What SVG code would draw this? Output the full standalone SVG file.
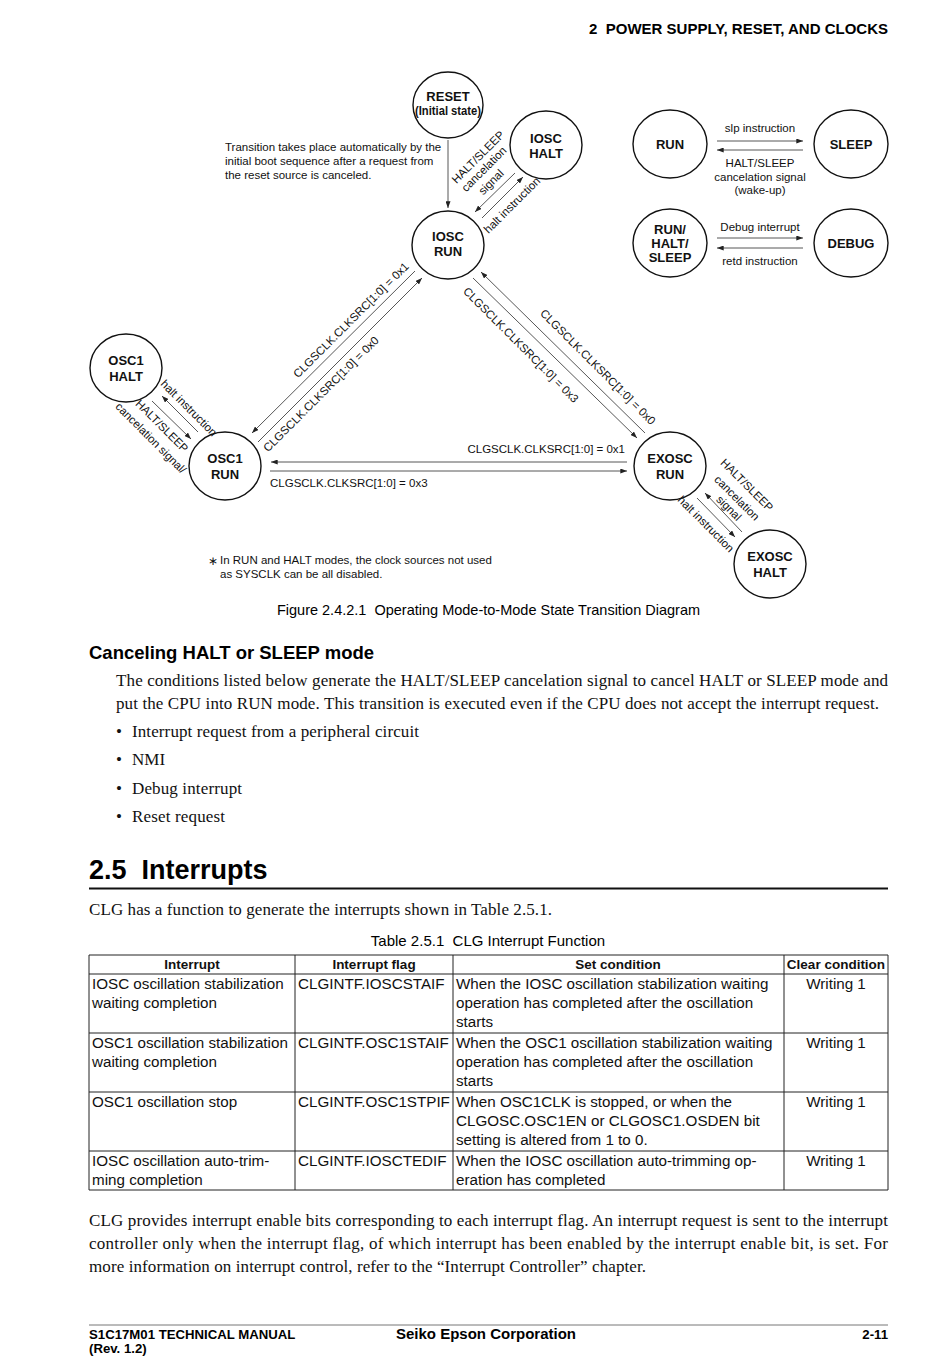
<svg xmlns="http://www.w3.org/2000/svg" width="950" height="1357" viewBox="0 0 950 1357">
<style>
.sans{font-family:"Liberation Sans",Arial,sans-serif}
.serif{font-family:"Liberation Serif","Times New Roman",serif;font-size:17px;fill:#111}
.node ellipse{fill:#fff;stroke:#111;stroke-width:1.4}
.nl{font-family:"Liberation Sans",Arial,sans-serif;font-size:13px;font-weight:bold;text-anchor:middle;fill:#111}
.cn path{fill:none;stroke:#444;stroke-width:0.9;marker-end:url(#ah)}
.lb{font-family:"Liberation Sans",Arial,sans-serif;font-size:11.5px;fill:#111}
.mid{text-anchor:middle}
.tb{font-family:"Liberation Sans",Arial,sans-serif;font-size:15.2px;fill:#111}
.th{font-family:"Liberation Sans",Arial,sans-serif;font-size:13.5px;font-weight:bold;text-anchor:middle;fill:#111}
.grid line{stroke:#222;stroke-width:1}
</style>
<defs>
<marker id="ah" viewBox="0 0 8 6" refX="8" refY="3" markerWidth="7" markerHeight="5" orient="auto" markerUnits="userSpaceOnUse"><path d="M0,0 L8,3 L0,6 z" fill="#222"/></marker>
</defs>
<rect width="950" height="1357" fill="#fff"/>

<!-- header -->
<text class="sans" x="888" y="34" font-size="15" font-weight="bold" text-anchor="end" xml:space="preserve">2  POWER SUPPLY, RESET, AND CLOCKS</text>

<!-- nodes -->
<g id="reset" class="node"><ellipse cx="448" cy="105" rx="35" ry="33"/><text class="nl" x="448" y="101">RESET</text><text class="nl" x="448" y="115" font-size="11" textLength="66" lengthAdjust="spacingAndGlyphs">(Initial state)</text></g>
<g id="iosc-halt" class="node"><ellipse cx="546" cy="145" rx="36" ry="34"/><text class="nl" x="546" y="143">IOSC</text><text class="nl" x="546" y="158">HALT</text></g>
<g id="iosc-run" class="node"><ellipse cx="448" cy="245" rx="36" ry="34"/><text class="nl" x="448" y="241">IOSC</text><text class="nl" x="448" y="256">RUN</text></g>
<g id="osc1-halt" class="node"><ellipse cx="126" cy="368" rx="36" ry="34"/><text class="nl" x="126" y="365">OSC1</text><text class="nl" x="126" y="381">HALT</text></g>
<g id="osc1-run" class="node"><ellipse cx="225" cy="466" rx="36" ry="34"/><text class="nl" x="225" y="463">OSC1</text><text class="nl" x="225" y="479">RUN</text></g>
<g id="exosc-run" class="node"><ellipse cx="670" cy="466" rx="36" ry="34"/><text class="nl" x="670" y="463">EXOSC</text><text class="nl" x="670" y="479">RUN</text></g>
<g id="exosc-halt" class="node"><ellipse cx="770" cy="564" rx="36" ry="34"/><text class="nl" x="770" y="561">EXOSC</text><text class="nl" x="770" y="577">HALT</text></g>
<g id="run" class="node"><ellipse cx="670" cy="144" rx="37" ry="34"/><text class="nl" x="670" y="149">RUN</text></g>
<g id="sleep" class="node"><ellipse cx="851" cy="144" rx="37" ry="34"/><text class="nl" x="851" y="149">SLEEP</text></g>
<g id="run-halt-sleep" class="node"><ellipse cx="670" cy="243" rx="37" ry="34"/><text class="nl" x="670" y="234">RUN/</text><text class="nl" x="670" y="248">HALT/</text><text class="nl" x="670" y="262">SLEEP</text></g>
<g id="debug" class="node"><ellipse cx="851" cy="243" rx="37" ry="34"/><text class="nl" x="851" y="248">DEBUG</text></g>

<!-- connectors -->
<g id="connectors" class="cn">
<path d="M448,140 L448,208"/>
<path d="M515,173 L475,212"/>
<path d="M482,218 L523,177"/>
<path d="M415,271 L252,433"/>
<path d="M258,442 L422,278"/>
<path d="M473,278 L637,438"/>
<path d="M645,433 L481,272"/>
<path d="M627,462 L271,462"/>
<path d="M270,471 L627,471"/>
<path d="M198,432 L162,396"/>
<path d="M152,401 L191,439"/>
<path d="M697,498 L735,537"/>
<path d="M742,532 L705,493"/>
<path d="M717,141 L803,141"/>
<path d="M803,150 L717,150"/>
<path d="M717,238 L803,238"/>
<path d="M803,248 L717,248"/>
</g>

<!-- connector labels -->
<g id="labels">
<text class="lb" x="225" y="151" font-size="11.3">Transition takes place automatically by the</text>
<text class="lb" x="225" y="165" font-size="11.3">initial boot sequence after a request from</text>
<text class="lb" x="225" y="179" font-size="11.3">the reset source is canceled.</text>

<text class="lb mid" transform="translate(478,157) rotate(-45)" y="4">HALT/SLEEP</text>
<text class="lb mid" transform="translate(484,169) rotate(-45)" y="4">cancelation</text>
<text class="lb mid" transform="translate(491,182) rotate(-45)" y="4">signal</text>
<text class="lb mid" transform="translate(512,205) rotate(-45)" y="4">halt instruction</text>

<text class="lb mid" transform="translate(351,320) rotate(-45)" y="4">CLGSCLK.CLKSRC[1:0] = 0x1</text>
<text class="lb mid" transform="translate(321,394) rotate(-45)" y="4">CLGSCLK.CLKSRC[1:0] = 0x0</text>

<text class="lb mid" transform="translate(521,345) rotate(45)" y="4">CLGSCLK.CLKSRC[1:0] = 0x3</text>
<text class="lb mid" transform="translate(598,367) rotate(45)" y="4">CLGSCLK.CLKSRC[1:0] = 0x0</text>

<text class="lb" x="625" y="453" text-anchor="end">CLGSCLK.CLKSRC[1:0] = 0x1</text>
<text class="lb" x="270" y="487">CLGSCLK.CLKSRC[1:0] = 0x3</text>

<text class="lb mid" transform="translate(189,408) rotate(45)" y="4">halt instruction</text>
<text class="lb mid" transform="translate(162,426) rotate(45)" y="4">HALT/SLEEP</text>
<text class="lb mid" transform="translate(151,438) rotate(45)" y="4">cancelation signal/</text>

<text class="lb mid" transform="translate(747,485) rotate(45)" y="4">HALT/SLEEP</text>
<text class="lb mid" transform="translate(737,498) rotate(45)" y="4">cancelation</text>
<text class="lb mid" transform="translate(729,508) rotate(45)" y="4">signal</text>
<text class="lb mid" transform="translate(706,524) rotate(45)" y="4">halt instruction</text>

<text class="lb mid" x="760" y="132">slp instruction</text>
<text class="lb mid" x="760" y="167">HALT/SLEEP</text>
<text class="lb mid" x="760" y="181">cancelation signal</text>
<text class="lb mid" x="760" y="194">(wake-up)</text>
<text class="lb mid" x="760" y="231">Debug interrupt</text>
<text class="lb mid" x="760" y="265">retd instruction</text>

<text class="lb" x="208" y="565">∗</text>
<text class="lb" x="220" y="564">In RUN and HALT modes, the clock sources not used</text>
<text class="lb" x="220" y="578">as SYSCLK can be all disabled.</text>
</g>

<text class="sans" x="488.5" y="615" font-size="14.5" text-anchor="middle" xml:space="preserve">Figure 2.4.2.1  Operating Mode-to-Mode State Transition Diagram</text>

<!-- section text -->
<text class="sans" x="89" y="659" font-size="18.5" font-weight="bold">Canceling HALT or SLEEP mode</text>
<text class="serif" x="116" y="686" textLength="772" lengthAdjust="spacing">The conditions listed below generate the HALT/SLEEP cancelation signal to cancel HALT or SLEEP mode and</text>
<text class="serif" x="116" y="709" textLength="763" lengthAdjust="spacing">put the CPU into RUN mode. This transition is executed even if the CPU does not accept the interrupt request.</text>
<text class="serif" x="116" y="737">•</text><text class="serif" x="132" y="737" textLength="287" lengthAdjust="spacing">Interrupt request from a peripheral circuit</text>
<text class="serif" x="116" y="765">•</text><text class="serif" x="132" y="765">NMI</text>
<text class="serif" x="116" y="794">•</text><text class="serif" x="132" y="794" textLength="110" lengthAdjust="spacing">Debug interrupt</text>
<text class="serif" x="116" y="822">•</text><text class="serif" x="132" y="822" textLength="93" lengthAdjust="spacing">Reset request</text>

<text class="sans" x="89" y="879" font-size="27" font-weight="bold" xml:space="preserve">2.5  Interrupts</text>
<line x1="89" y1="888.5" x2="888" y2="888.5" stroke="#111" stroke-width="1.8"/>
<text class="serif" x="89" y="915" textLength="463" lengthAdjust="spacing">CLG has a function to generate the interrupts shown in Table 2.5.1.</text>

<!-- table -->
<text class="sans" x="488" y="946" font-size="15" text-anchor="middle" xml:space="preserve">Table 2.5.1  CLG Interrupt Function</text>
<g class="grid">
<line x1="89" y1="955" x2="888" y2="955"/>
<line x1="89" y1="974" x2="888" y2="974"/>
<line x1="89" y1="1033" x2="888" y2="1033"/>
<line x1="89" y1="1092" x2="888" y2="1092"/>
<line x1="89" y1="1151" x2="888" y2="1151"/>
<line x1="89" y1="1190" x2="888" y2="1190"/>
<line x1="89" y1="955" x2="89" y2="1190"/>
<line x1="295" y1="955" x2="295" y2="1190"/>
<line x1="453" y1="955" x2="453" y2="1190"/>
<line x1="784" y1="955" x2="784" y2="1190"/>
<line x1="888" y1="955" x2="888" y2="1190"/>
</g>
<text class="th" x="192" y="969">Interrupt</text>
<text class="th" x="374" y="969">Interrupt flag</text>
<text class="th" x="618" y="969">Set condition</text>
<text class="th" x="836" y="969">Clear condition</text>

<text class="tb" x="92" y="989">IOSC oscillation stabilization</text>
<text class="tb" x="92" y="1008">waiting completion</text>
<text class="tb" x="298" y="989">CLGINTF.IOSCSTAIF</text>
<text class="tb" x="456" y="989">When the IOSC oscillation stabilization waiting</text>
<text class="tb" x="456" y="1008">operation has completed after the oscillation</text>
<text class="tb" x="456" y="1027">starts</text>
<text class="tb" x="836" y="989" text-anchor="middle">Writing 1</text>

<text class="tb" x="92" y="1048">OSC1 oscillation stabilization</text>
<text class="tb" x="92" y="1067">waiting completion</text>
<text class="tb" x="298" y="1048">CLGINTF.OSC1STAIF</text>
<text class="tb" x="456" y="1048">When the OSC1 oscillation stabilization waiting</text>
<text class="tb" x="456" y="1067">operation has completed after the oscillation</text>
<text class="tb" x="456" y="1086">starts</text>
<text class="tb" x="836" y="1048" text-anchor="middle">Writing 1</text>

<text class="tb" x="92" y="1107">OSC1 oscillation stop</text>
<text class="tb" x="298" y="1107">CLGINTF.OSC1STPIF</text>
<text class="tb" x="456" y="1107">When OSC1CLK is stopped, or when the</text>
<text class="tb" x="456" y="1126">CLGOSC.OSC1EN or CLGOSC1.OSDEN bit</text>
<text class="tb" x="456" y="1145">setting is altered from 1 to 0.</text>
<text class="tb" x="836" y="1107" text-anchor="middle">Writing 1</text>

<text class="tb" x="92" y="1166">IOSC oscillation auto-trim-</text>
<text class="tb" x="92" y="1185">ming completion</text>
<text class="tb" x="298" y="1166">CLGINTF.IOSCTEDIF</text>
<text class="tb" x="456" y="1166">When the IOSC oscillation auto-trimming op-</text>
<text class="tb" x="456" y="1185">eration has completed</text>
<text class="tb" x="836" y="1166" text-anchor="middle">Writing 1</text>

<text class="serif" x="89" y="1226" textLength="799" lengthAdjust="spacing">CLG provides interrupt enable bits corresponding to each interrupt flag. An interrupt request is sent to the interrupt</text>
<text class="serif" x="89" y="1249" textLength="799" lengthAdjust="spacing">controller only when the interrupt flag, of which interrupt has been enabled by the interrupt enable bit, is set. For</text>
<text class="serif" x="89" y="1272" textLength="557" lengthAdjust="spacing">more information on interrupt control, refer to the “Interrupt Controller” chapter.</text>

<!-- footer -->
<line x1="89" y1="1325" x2="888" y2="1325" stroke="#777" stroke-width="1"/>
<text class="sans" x="89" y="1339" font-size="13.2" font-weight="bold">S1C17M01 TECHNICAL MANUAL</text>
<text class="sans" x="89" y="1353" font-size="13.2" font-weight="bold">(Rev. 1.2)</text>
<text class="sans" x="396" y="1339" font-size="15" font-weight="bold">Seiko Epson Corporation</text>
<text class="sans" x="888" y="1339" font-size="13.2" font-weight="bold" text-anchor="end">2-11</text>
</svg>
